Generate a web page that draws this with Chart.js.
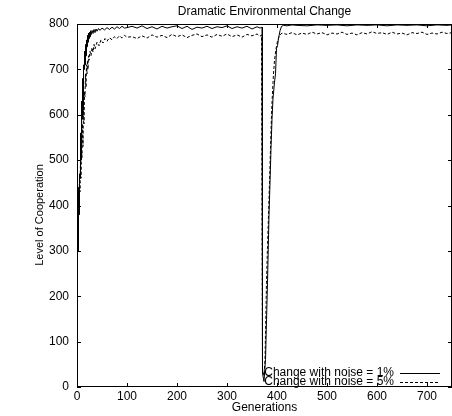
<!DOCTYPE html>
<html>
<head>
<meta charset="utf-8">
<script src="https://cdn.jsdelivr.net/npm/chart.js@4/dist/chart.umd.min.js"></script>
<style>
  html, body { margin: 0; padding: 0; background: #fff; }
  #wrap { width: 452px; height: 416px; }
</style>
</head>
<body>
<div id="wrap"><canvas id="coop"></canvas></div>
<script>
// data
var chartTitle = "Dramatic Environmental Change";
var xTitle = "Generations";
var yTitle = "Level of Cooperation";
var labelA = "Change with noise = 1%";
var labelB = "Change with noise = 5%";

var xTicks = [0, 100, 200, 300, 400, 500, 600, 700];
var yTicks = [0, 100, 200, 300, 400, 500, 600, 700, 800];

var gensA = [0,1,2,3,4,5,6,7,8,9,10,11,12,13,14,15,16,17,18,19,20,21,22,23,24,25,26,27,28,30,32,34,36,38,40,43,46,50,55,60,65,70,75,80,85,90,95,100,
  110,120,130,140,150,160,170,180,190,200,210,220,230,240,250,260,270,280,290,300,310,320,330,340,350,360,366,370,
  371,374,377,381,384,386,388,390,392,395,397,399,401,403,406,409,413,420,430,440,460,480,500,520,540,560,580,600,620,640,660,680,700,720,740,750];
var valsA = [200,450,300,440,380,470,460,560,500,630,590,680,620,710,700,740,710,755,730,765,750,775,760,780,768,782,772,785,776,786,779,788,781,789,784,790,786,791,787,792,788,793,789,794,790,795,791,792,
  795,791,796,790,794,789,795,791,794,796,790,795,788,793,791,795,790,794,792,796,790,794,791,795,789,794,791,793,
  30,12,60,231,379,450,526,590,636,672,690,746,752,768,785,795,797,796,798,797,796,798,797,798,796,798,797,798,796,798,797,798,796,798,797,798,797];

var gensB = [0,1,2,3,4,5,6,7,8,9,10,11,12,13,14,15,16,17,18,19,20,21,22,23,24,26,28,30,32,34,36,40,44,48,52,56,60,65,70,75,80,85,90,95,100,
  110,120,130,140,150,160,170,180,190,200,210,220,230,240,250,260,270,280,290,300,310,320,330,340,350,360,366,369,
  371,374,376,379,381,383,385,387,389,391,393,395,398,401,405,410,420,430,440,450,460,470,480,490,500,510,520,530,540,550,560,570,580,590,600,
  610,620,630,640,650,660,670,680,690,700,710,720,730,740,750];
var valsB = [200,360,300,420,380,470,430,500,460,520,505,580,530,620,580,650,640,690,660,710,690,720,700,730,720,740,730,748,738,755,745,760,752,765,758,768,762,770,765,772,768,774,769,775,771,
  772,768,774,769,776,771,775,770,777,772,776,770,775,778,772,776,771,777,773,778,772,776,771,777,774,778,773,776,
  40,25,60,231,310,379,450,526,600,650,690,720,745,762,775,780,777,781,776,780,777,782,778,781,776,780,778,782,777,780,776,781,778,783,779,
  781,777,782,778,780,776,781,779,782,777,780,778,782,779,781];

function toPoints(xs, ys) {
  var pts = [];
  for (var i in xs) {
    pts.push({x: xs[i], y: ys[i]});
  }
  return pts;
}

var FONT = '"Liberation Sans", Arial, sans-serif';

// gnuplot style frame, inward ticks on all four sides, titles and the key inside the plot
var frameAndKey = {
  id: 'frameAndKey',
  afterDatasetsDraw: function(chart) {
    var ctx = chart.ctx;
    var a = chart.chartArea;
    var xs = chart.scales.x, ys = chart.scales.y;
    ctx.save();
    ctx.strokeStyle = '#000';
    ctx.lineWidth = 1;
    ctx.setLineDash([]);
    ctx.strokeRect(a.left + 0.5, a.top + 0.5, a.right - a.left - 1, a.bottom - a.top - 1);
    ctx.beginPath();
    xTicks.forEach(function(v) {
      var px = Math.round(xs.getPixelForValue(v)) + 0.5;
      ctx.moveTo(px, a.bottom); ctx.lineTo(px, a.bottom - 4);
      ctx.moveTo(px, a.top); ctx.lineTo(px, a.top + 4);
    });
    yTicks.forEach(function(v) {
      var py = Math.round(ys.getPixelForValue(v)) + 0.5;
      ctx.moveTo(a.left, py); ctx.lineTo(a.left + 4, py);
      ctx.moveTo(a.right, py); ctx.lineTo(a.right - 4, py);
    });
    ctx.stroke();

    ctx.fillStyle = '#000';
    ctx.font = '12px ' + FONT;
    ctx.textAlign = 'center';
    ctx.textBaseline = 'middle';
    ctx.fillText(chartTitle, (a.left + a.right) / 2, 12);
    ctx.fillText(xTitle, (a.left + a.right) / 2, 408);

    ctx.save();
    ctx.translate(40, 215);
    ctx.rotate(-Math.PI / 2);
    ctx.font = '11px ' + FONT;
    ctx.fillText(yTitle, 0, 0);
    ctx.restore();

    // key
    ctx.textAlign = 'right';
    var rows = [373, 382];
    chart.data.datasets.forEach(function(ds, i) {
      ctx.fillText(ds.label, 394, rows[i]);
      ctx.beginPath();
      ctx.setLineDash(ds.borderDash || []);
      ctx.moveTo(400, rows[i] + 0.5);
      ctx.lineTo(440, rows[i] + 0.5);
      ctx.stroke();
    });
    ctx.restore();
  }
};

var ctx = document.getElementById('coop');

var lineChart = new Chart(ctx, {
  type: 'line',
  data: {
    datasets: [
      {
        label: labelA,
        data: toPoints(gensA, valsA),
        borderColor: '#000',
        borderWidth: 1,
        pointRadius: 0,
        tension: 0
      },
      {
        label: labelB,
        data: toPoints(gensB, valsB),
        borderColor: '#000',
        borderWidth: 1,
        borderDash: [3, 2],
        pointRadius: 0,
        tension: 0
      }
    ]
  },
  options: {
    responsive: true,
    maintainAspectRatio: false,
    animation: false,
    layout: { padding: { top: 24, left: 0, right: 0, bottom: 0 } },
    plugins: {
      legend: { display: false },
      tooltip: { enabled: false },
      title: { display: false }
    },
    scales: {
      x: {
        type: 'linear',
        min: 0,
        max: 750,
        grid: { display: false, drawTicks: false },
        border: { display: false },
        afterBuildTicks: function(scale) {
          scale.ticks = xTicks.map(function(v) { return {value: v}; });
        },
        afterFit: function(scale) { scale.height = 29; },
        ticks: {
          color: '#000',
          padding: 2,
          maxRotation: 0,
          font: { family: FONT, size: 12 }
        }
      },
      y: {
        min: 0,
        max: 800,
        grid: { display: false, drawTicks: false },
        border: { display: false },
        afterBuildTicks: function(scale) {
          scale.ticks = yTicks.map(function(v) { return {value: v}; });
        },
        afterFit: function(scale) { scale.width = 77; },
        ticks: {
          color: '#000',
          padding: 8,
          font: { family: FONT, size: 12 }
        }
      }
    }
  },
  plugins: [frameAndKey]
});
</script>
</body>
</html>
